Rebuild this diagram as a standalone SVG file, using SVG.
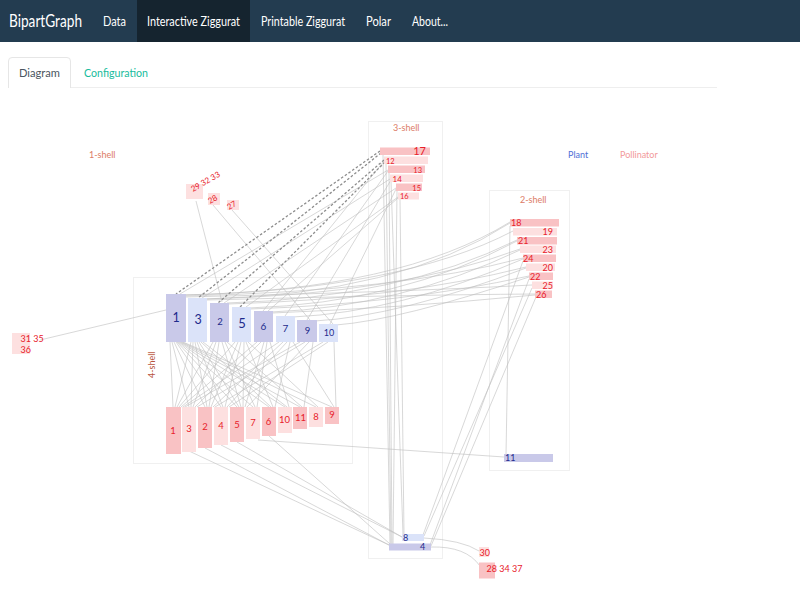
<svg xmlns="http://www.w3.org/2000/svg" width="800" height="600" viewBox="0 0 800 600">
<defs>
<style>
.nav{font-family:Lato,'Liberation Sans',sans-serif;font-size:13px;fill:#ffffff}
.t{font-family:Lato,'Liberation Sans',sans-serif}
.e{fill:none;stroke:#bdbdbd;stroke-width:0.6}
.d{fill:none;stroke:#8c8c8c;stroke-width:1.3;stroke-dasharray:2.5 2}
.box{fill:none;stroke:#f0f0f0;stroke-width:1}
.pd{fill:#c9c9e9}
.pl{fill:#dbe3f9}
.ad{fill:#f9c2c4}
.al{fill:#fde0e0}
.pt{font-family:Lato,'Liberation Sans',sans-serif;fill:#1e2a8c;text-anchor:middle}
.at{font-family:Lato,'Liberation Sans',sans-serif;fill:#e8202a;font-size:9px}
.atm{font-family:Lato,'Liberation Sans',sans-serif;fill:#e8202a;font-size:9.5px;text-anchor:middle}
.sh{font-family:Lato,'Liberation Sans',sans-serif;fill:#dc7c66;font-size:9px}
</style>
</defs>
<rect x="0" y="0" width="800" height="600" fill="#ffffff"/>
<g id="navbar">
<rect x="0" y="0" width="800" height="42" fill="#233c50"/>
<rect x="137" y="0" width="113" height="42" fill="#15242f"/>
<text class="nav" x="9" y="27" style="font-size:17px" textLength="73" lengthAdjust="spacingAndGlyphs">BipartGraph</text>
<text class="nav" x="103" y="26" textLength="23" lengthAdjust="spacingAndGlyphs">Data</text>
<text class="nav" x="147" y="26" textLength="93" lengthAdjust="spacingAndGlyphs">Interactive Ziggurat</text>
<text class="nav" x="261" y="26" textLength="84" lengthAdjust="spacingAndGlyphs">Printable Ziggurat</text>
<text class="nav" x="366" y="26" textLength="25" lengthAdjust="spacingAndGlyphs">Polar</text>
<text class="nav" x="412" y="26" textLength="36" lengthAdjust="spacingAndGlyphs">About...</text>
</g>
<g id="tabs">
<line x1="70" y1="87.5" x2="717" y2="87.5" stroke="#eeeeee"/>
<path d="M8.5 88 L8.5 61 Q8.5 57.5 12 57.5 L67 57.5 Q70.5 57.5 70.5 61 L70.5 88" fill="#ffffff" stroke="#e6e6e6"/>
<text class="t" x="19" y="77" font-size="12" fill="#4a5560" textLength="41" lengthAdjust="spacingAndGlyphs">Diagram</text>
<text class="t" x="84" y="77" font-size="12" fill="#18bc9c" textLength="64" lengthAdjust="spacingAndGlyphs">Configuration</text>
</g>
<g id="shell-boxes">
<rect class="box" x="368.5" y="121.5" width="74" height="437"/>
<rect class="box" x="489.5" y="190.5" width="80" height="280"/>
<rect class="box" x="133.5" y="277.5" width="219" height="186"/>
</g>
<g id="connectors">
<path class="e" d="M170 342L173 407M172 342L189 407M174 342L205 407M176 342L221 407M177 342L237 407M178 342L253 407M179 342L269 407M180 342L285 407M181 342L300 407M182 342L316 407M183 342L332 407
M191 342L175 407M193 342L191 407M195 342L207 407M197 342L223 407M199 342L239 407M201 342L271 407M203 342L287 407
M213 342L177 407M216 342L193 407M219 342L209 407M222 342L241 407M225 342L255 407M227 342L302 407
M235 342L179 407M238 342L211 407M241 342L225 407M244 342L243 407M246 342L273 407M248 342L318 407
M257 342L181 407M261 342L195 407M264 342L245 407M267 342L257 407M270 342L289 407
M279 342L183 407M283 342L213 407M287 342L227 407M290 342L275 407M293 342L334 407
M300 342L185 407M305 342L197 407M309 342L247 407M313 342L304 407
M323 342L215 407M328 342L229 407M334 342L336 407"/>
<path class="e" d="M384 161L263 311M388 170L180 294M388 171L285 316M390 179L202 298M391 180L307 320M396 188L224 303M396 189L330 324M398 197L246 307M398 198L268 311"/>
<path class="e" d="M386 163L391 545M389 172L392 545M391 181L403 535M397 190L393 545M400 199L404 535M383 155L390 545"/>
<path class="e" d="M510 222Q400 290 184 295M510 223Q400 294 205 299M513 231Q400 290 183 295M517 240Q400 298 227 303M517 241Q400 303 249 308M520 249Q400 294 206 299M520 250Q400 307 271 312M523 258Q400 291 185 296M523 259Q400 312 293 317M526 267Q400 299 228 304M526 268Q400 316 315 321M529 276Q400 304 250 309M529 277Q400 320 336 325M532 285Q400 292 185 297M535 294Q400 295 207 300M535 295Q400 308 272 313"/>
<path class="e" d="M529 279L430 545M532 288L424 536M536 297L431 546M523 261L423 535M510 226L506 455M258 440L504 457"/>
<path class="e" d="M189 451L389 545M205 448L389 545M221 445L402 537M237 442L402 537M269 436L390 544"/>
<path class="e" d="M424 538Q462 540 479 551M431 547Q466 546 480 566"/>
<path class="e" d="M196 201L222 302M213 205L310 320M232 210L333 324M40 340L166 310"/>
<path class="d" d="M380 151L176 294M381 153L198 298M384 160L218 303M385 162L240 307"/>
</g>
<g id="labels">
<text class="sh" x="89" y="158">1-shell</text>
<text class="sh" x="393" y="131">3-shell</text>
<text class="sh" x="520" y="203">2-shell</text>
<text class="sh" transform="translate(155 378) rotate(-90)" style="fill:#b8553e">4-shell</text>
<text class="t" x="568" y="158" font-size="9" fill="#4f6fd6">Plant</text>
<text class="t" x="620" y="158" font-size="9" fill="#f29a9a">Pollinator</text>
</g>
<g id="plant-1"><rect class="pd" x="166" y="294" width="20" height="48"/><text class="pt" x="176" y="322" font-size="12.5">1</text></g>
<g id="plant-3"><rect class="pl" x="188" y="298" width="19" height="44"/><text class="pt" x="198" y="324" font-size="12.5">3</text></g>
<g id="plant-2"><rect class="pd" x="210" y="303" width="19" height="39"/><text class="pt" x="220" y="325" font-size="9.5">2</text></g>
<g id="plant-5"><rect class="pl" x="232" y="307" width="19" height="35"/><text class="pt" x="242" y="328" font-size="13">5</text></g>
<g id="plant-6"><rect class="pd" x="254" y="311" width="19" height="31"/><text class="pt" x="263.5" y="330" font-size="10">6</text></g>
<g id="plant-7"><rect class="pl" x="276" y="316" width="19" height="26"/><text class="pt" x="285.5" y="332" font-size="10">7</text></g>
<g id="plant-9"><rect class="pd" x="297" y="320" width="20" height="22"/><text class="pt" x="307.5" y="334" font-size="9.5">9</text></g>
<g id="plant-10"><rect class="pl" x="319" y="324" width="19" height="18"/><text class="pt" x="329" y="335.5" font-size="9">10</text></g>
<g id="pol-1"><rect class="ad" x="166" y="407" width="15" height="47"/><text class="atm" x="173" y="434">1</text></g>
<g id="pol-3"><rect class="al" x="182" y="407" width="14" height="45"/><text class="atm" x="189" y="432">3</text></g>
<g id="pol-2"><rect class="ad" x="198" y="407" width="14" height="41"/><text class="atm" x="205" y="430">2</text></g>
<g id="pol-4"><rect class="al" x="214" y="407" width="14" height="38"/><text class="atm" x="221" y="429">4</text></g>
<g id="pol-5"><rect class="ad" x="230" y="407" width="14" height="35"/><text class="atm" x="237" y="428">5</text></g>
<g id="pol-7"><rect class="al" x="246" y="407" width="14" height="32"/><text class="atm" x="253" y="426">7</text></g>
<g id="pol-6"><rect class="ad" x="262" y="407" width="14" height="29"/><text class="atm" x="268.5" y="425">6</text></g>
<g id="pol-10"><rect class="al" x="278" y="407" width="14" height="26"/><text class="atm" x="284.5" y="423">10</text></g>
<g id="pol-11"><rect class="ad" x="293" y="407" width="14" height="22"/><text class="atm" x="300.5" y="421">11</text></g>
<g id="pol-8"><rect class="al" x="309" y="407" width="14" height="20"/><text class="atm" x="316" y="420">8</text></g>
<g id="pol-9"><rect class="ad" x="325" y="407" width="14" height="17"/><text class="atm" x="332" y="418">9</text></g>
<g id="pol-17"><rect class="ad" x="380" y="147.5" width="50" height="7.5"/><text class="at" x="426" y="155" text-anchor="end" style="font-size:11px">17</text></g>
<g id="pol-12"><rect class="al" x="384" y="156.5" width="44" height="7.5"/><text class="at" x="386" y="163.5" style="font-size:7.5px">12</text></g>
<g id="pol-13"><rect class="ad" x="388" y="165.5" width="37" height="7.5"/><text class="at" x="422" y="172.5" text-anchor="end" style="font-size:7.5px">13</text></g>
<g id="pol-14"><rect class="al" x="390" y="174.5" width="33" height="7.5"/><text class="at" x="392.5" y="181.5" style="font-size:8px">14</text></g>
<g id="pol-15"><rect class="ad" x="396" y="183.5" width="26" height="7.5"/><text class="at" x="421" y="190.5" text-anchor="end" style="font-size:7.5px">15</text></g>
<g id="pol-16"><rect class="al" x="398" y="192.5" width="21" height="7"/><text class="at" x="400" y="199" style="font-size:7.5px">16</text></g>
<g id="pol-18"><rect class="ad" x="510" y="219" width="49" height="7.5"/><text class="at" x="511" y="226">18</text></g>
<g id="pol-19"><rect class="al" x="513" y="228" width="44" height="7.5"/><text class="at" x="553" y="235" text-anchor="end">19</text></g>
<g id="pol-21"><rect class="ad" x="517" y="237" width="40" height="7.5"/><text class="at" x="518" y="244">21</text></g>
<g id="pol-23"><rect class="al" x="520" y="245.5" width="36" height="7.5"/><text class="at" x="553" y="252.5" text-anchor="end">23</text></g>
<g id="pol-24"><rect class="ad" x="523" y="254.5" width="33" height="7.5"/><text class="at" x="523" y="261.5">24</text></g>
<g id="pol-20"><rect class="al" x="526" y="263.5" width="29" height="7.5"/><text class="at" x="553" y="270.5" text-anchor="end">20</text></g>
<g id="pol-22"><rect class="ad" x="529" y="272.5" width="24" height="7.5"/><text class="at" x="530" y="279.5">22</text></g>
<g id="pol-25"><rect class="al" x="532" y="281.5" width="21" height="7.5"/><text class="at" x="553" y="288.5" text-anchor="end">25</text></g>
<g id="pol-26"><rect class="ad" x="535" y="290.5" width="17" height="7.5"/><text class="at" x="536" y="297.5">26</text></g>
<g id="plant-11"><rect class="pd" x="504" y="454" width="49" height="8"/><text class="pt" x="505" y="461" font-size="9" style="text-anchor:start">11</text></g>
<g id="plant-8"><rect class="pl" x="402" y="534" width="22" height="7"/><text class="pt" x="403" y="540.5" font-size="9" style="text-anchor:start">8</text></g>
<g id="plant-4"><rect class="pd" x="389" y="543.5" width="42" height="7"/><text class="pt" x="420" y="549.5" font-size="9" style="text-anchor:start">4</text></g>
<g id="pol-30"><rect class="al" x="479" y="547" width="10" height="10"/><text class="at" x="479.5" y="556">30</text></g>
<g id="pol-28-34-37"><rect class="ad" x="479" y="562.5" width="16" height="16"/><text class="at" x="486.5" y="572">28 34 37</text></g>
<g id="pol-31-35-36"><rect class="al" x="12" y="333" width="18" height="21"/><text class="at" x="20.5" y="342">31 35</text><text class="at" x="20.5" y="352.5">36</text></g>
<g id="pol-29-32-33"><rect class="al" x="186" y="184" width="17" height="15"/><text class="at" transform="translate(193 192) rotate(-30)" style="font-size:8px">29 32 33</text></g>
<g id="pol-28"><rect class="al" x="208" y="193" width="12" height="12"/><text class="at" transform="translate(210 204) rotate(-30)" style="font-size:8px">28</text></g>
<g id="pol-27"><rect class="al" x="227" y="200" width="12" height="10"/><text class="at" transform="translate(229 210) rotate(-30)" style="font-size:8px">27</text></g>
</svg>
